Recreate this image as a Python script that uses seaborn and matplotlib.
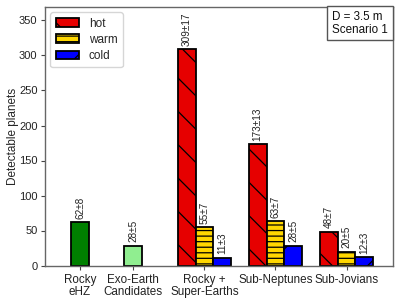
import pandas as pd
import seaborn as sns
import matplotlib.pyplot as plt
from matplotlib.patches import Patch
from matplotlib.offsetbox import AnchoredText

# Datos
group_labels = ["Rocky\neHZ", "Exo-Earth\nCandidates", "Rocky +\nSuper-Earths",
                "Sub-Neptunes", "Sub-Jovians"]
group_pos = [0.0, 0.75, 1.75, 2.75, 3.75]

single_kinds = ["rocky", "exo"]
single_vals = [62, 28]
single_errs = [8, 5]

temp_kinds = ["hot", "warm", "cold"]
hot_vals = [309, 173, 48]
hot_errs = [17, 13, 7]
warm_vals = [55, 63, 20]
warm_errs = [7, 7, 5]
cold_vals = [11, 28, 12]
cold_errs = [3, 5, 3]

colors = {"rocky": "#008000", "exo": "#90ee90",
          "hot": "#e60000", "warm": "#ffd700", "cold": "#0000ff"}
hatches = {"rocky": "", "exo": "", "hot": "\\", "warm": "---", "cold": "/"}

# Construir tabla larga
rows = []
for p, k, v, e in zip(group_pos[:2], single_kinds, single_vals, single_errs):
    rows.append((p, k, v, e))
for i, p in enumerate(group_pos[2:]):
    for j, (k, vals, errs) in enumerate(zip(temp_kinds,
                                            [hot_vals, warm_vals, cold_vals],
                                            [hot_errs, warm_errs, cold_errs])):
        rows.append((p + (j - 1) * 0.25, k, vals[i], errs[i]))
df = pd.DataFrame(rows, columns=["pos", "kind", "n", "err"])

sns.set_style("ticks")
plt.rcParams["font.family"] = ["Liberation Sans", "DejaVu Sans"]
plt.rcParams["hatch.linewidth"] = 0.9

fig, ax = plt.subplots(figsize=(3.99, 3.03), dpi=100)
fig.subplots_adjust(left=44.5 / 399, right=392.7 / 399,
                    bottom=1 - 265.5 / 303, top=1 - 6.5 / 303)

hue_order = single_kinds + temp_kinds
sns.barplot(data=df, x="pos", y="n", hue="kind", hue_order=hue_order,
            palette=colors, native_scale=True, dodge=False, width=1.0,
            errorbar=None, saturation=1, edgecolor="black", linewidth=1.3,
            legend=False, ax=ax)

for cont, k in zip(ax.containers, hue_order):
    for bar in cont:
        bar.set_hatch(hatches[k])

for _, r in df.iterrows():
    ax.annotate(f"{r.n}±{r.err}", (r.pos, r.n), xytext=(0, 2.5),
                textcoords="offset points", rotation=90, ha="center",
                va="bottom", fontsize=7.2, color="#222222")

ax.set_xlim(-0.5, 4.4)
ax.set_ylim(0, 370)
ax.set_xticks(group_pos)
ax.set_xticklabels(group_labels, fontsize=8.4, multialignment="center",
                   linespacing=1.0)
ax.set_yticks(range(0, 351, 50))
ax.tick_params(axis="y", labelsize=8, colors="#444444", length=3, pad=2)
ax.tick_params(axis="x", colors="#444444", length=3, pad=3)
for lbl in ax.get_xticklabels() + ax.get_yticklabels():
    lbl.set_color("#222222")
ax.set_xlabel("")
ax.set_ylabel("Detectable planets", fontsize=8.5)
ax.yaxis.set_label_coords(-0.074, 0.5)
for s in ax.spines.values():
    s.set_visible(True)
    s.set_color("#666666")
    s.set_linewidth(1.0)

handles = [Patch(facecolor=colors[k], edgecolor="black", hatch=hatches[k],
                 linewidth=1.3, label=k) for k in temp_kinds]
leg = ax.legend(handles=handles, loc="upper left", fontsize=8.5,
                handlelength=2.0, handleheight=0.75, handletextpad=0.8,
                frameon=True, borderpad=0.45, labelspacing=0.35,
                borderaxespad=0.5)
leg.get_frame().set_edgecolor("#cccccc")

# Caja de texto en la esquina superior derecha
at = AnchoredText("D = 3.5 m\nScenario 1", loc="upper right", borderpad=0,
                  pad=0.4, prop=dict(size=8.4, color="#111111", linespacing=1.05),
                  frameon=True)
at.patch.set_boxstyle("square,pad=0")
at.patch.set_edgecolor("#555555")
at.patch.set_linewidth(1.0)
ax.add_artist(at)

plt.savefig("out.png", dpi=100)
